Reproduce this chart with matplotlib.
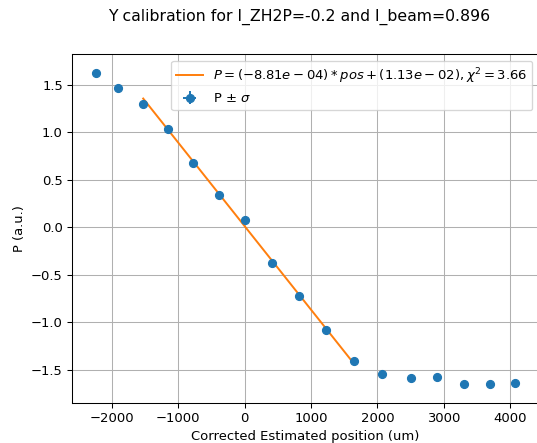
import numpy as np
import matplotlib
matplotlib.use("Agg")
import matplotlib.pyplot as plt

# Measured polarisation vs corrected position
positions = [-2238, -1905, -1526, -1157, -773, -389, 0, 406, 818, 1229,
             1645, 2071, 2502, 2902, 3308, 3699, 4071]
pol = [1.625, 1.463, 1.302, 1.036, 0.681, 0.337, 0.074, -0.382, -0.729,
       -1.087, -1.407, -1.543, -1.589, -1.582, -1.653, -1.656, -1.642]
pos_err = [40] * len(positions)
pol_err = [0.03] * len(pol)

# Linear fit result over the central (linear) region
slope = -8.81e-04
intercept = 1.13e-02
chi2 = 3.66
fit_first, fit_last = 2, 10

title = "Y calibration for I_ZH2P=-0.2 and I_beam=0.896"
xlabel = "Corrected Estimated position (um)"
ylabel = "P (a.u.)"

dpi = 94.3
W, H = 537, 443
fig = plt.figure(figsize=(W / dpi, H / dpi), dpi=dpi)
ax = fig.add_axes([72 / W, 40 / H, 467 / W, 348.7 / H])

x_fit = np.array(positions[fit_first:fit_last + 1], dtype=float)
fit_label = (r"$P=(%.2e)*pos+(%.2e),\chi^2=%.2f$" % (slope, intercept, chi2))
ax.plot(x_fit, slope * x_fit + intercept, color="C1", label=fit_label)
ax.errorbar(positions, pol, xerr=pos_err, yerr=pol_err, fmt="o", color="C0",
            label=r"P $\pm$ $\sigma$")

ax.set_xlabel(xlabel)
ax.set_ylabel(ylabel)
ax.grid(True)
ax.spines["right"].set_visible(False)
ax.legend(loc="upper right")
fig.suptitle(title, x=299 / W)

fig.savefig("out.png", dpi=dpi)
